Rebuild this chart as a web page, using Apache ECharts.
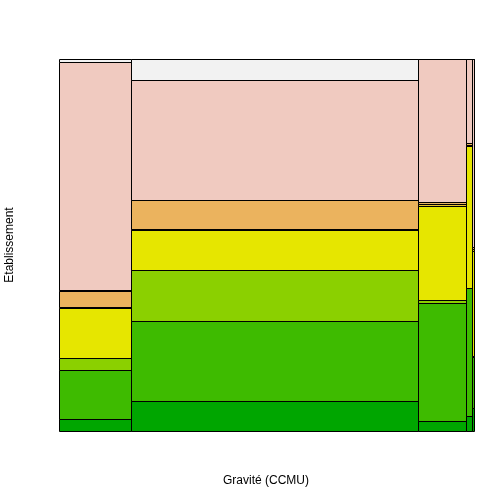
<!DOCTYPE html>
<html>
<head>
<meta charset="utf-8">
<script src="https://cdn.jsdelivr.net/npm/echarts@6/dist/echarts.min.js"></script>
<style>html,body{margin:0;padding:0;background:#fff}#c{width:504px;height:504px}</style>
</head>
<body>
<div id="c"></div>
<script>
// Gravité (CCMU) levels (x) with their relative column widths
var gravite = ["1", "2", "3", "4", "5"];
var graviteTotals = [72.3, 287, 48, 6, 1.7];
// Etablissement levels (y, bottom to top)
var etablissements = ["E1", "E2", "E3", "E4", "E5", "E6", "E7", "E8", "E9"];
var etabColors = ["#00A600", "#3EBB00", "#8BD000", "#E6E600", "#E8C32E", "#EBB35E", "#EDB48E", "#F0CAC0", "#F2F2F2"];
// share (%) of each Etablissement within each Gravité column
var shareG1 = [3.1, 13.2, 3.2, 13.4, 0.4, 4.3, 0.1, 61.3, 0.8];
var shareG2 = [8.1, 21.5, 13.8, 10.5, 0.5, 7.6, 0.1, 32.2, 5.7];
var shareG3 = [2.7, 31.7, 0.7, 25.4, 0.5, 0.5, 0.1, 38.4, 0.0];
var shareG4 = [4.0, 34.4, 0.1, 38.0, 0.4, 0.4, 0.1, 22.6, 0.0];
var shareG5 = [6.2, 13.7, 0.3, 28.2, 0.5, 0.5, 0.1, 50.5, 0.0];
var shares = [shareG1, shareG2, shareG3, shareG4, shareG5];
var xTitle = 'Gravité (CCMU)';
var yTitle = 'Etablissement';

var cells = [];
var xCum = 0;
for (var c = 0; c < gravite.length; c++) {
  var tot = shares[c].reduce(function (a, b) { return a + b; }, 0);
  var yCum = 0;
  for (var e = 0; e < etablissements.length; e++) {
    var h = shares[c][e] / tot;
    cells.push([xCum, xCum + graviteTotals[c], yCum, yCum + h, e]);
    yCum += h;
  }
  xCum += graviteTotals[c];
}
var xMax = xCum;

var chart = echarts.init(document.getElementById('c'), null, {renderer: 'canvas'});
chart.setOption({
  animation: false,
  backgroundColor: '#fff',
  grid: {left: 59, right: 30, top: 59, bottom: 73, containLabel: false, outerBoundsMode: 'none'},
  xAxis: {
    type: 'value', min: 0, max: xMax,
    axisLine: {show: false}, axisTick: {show: false}, axisLabel: {show: false}, splitLine: {show: false}
  },
  yAxis: {
    type: 'value', min: 0, max: 1,
    axisLine: {show: false}, axisTick: {show: false}, axisLabel: {show: false}, splitLine: {show: false}
  },
  graphic: [
    {type: 'text', x: 266, y: 481, style: {text: xTitle, fontFamily: 'Liberation Sans', fontSize: 12, fill: '#000', align: 'center', verticalAlign: 'middle'}},
    {type: 'text', x: 10, y: 245, rotation: Math.PI / 2, style: {text: yTitle, fontFamily: 'Liberation Sans', fontSize: 12, fill: '#000', align: 'center', verticalAlign: 'middle'}}
  ],
  series: [{
    type: 'custom',
    data: cells,
    renderItem: function (params, api) {
      var p0 = api.coord([api.value(0), api.value(2)]);
      var p1 = api.coord([api.value(1), api.value(3)]);
      var x0 = Math.round(p0[0]) + 0.5, x1 = Math.round(p1[0]) + 0.5;
      var yb = Math.round(p0[1]) + 0.5, yt = Math.round(p1[1]) + 0.5;
      return {
        type: 'rect',
        shape: {x: x0, y: yt, width: x1 - x0, height: yb - yt},
        style: {fill: etabColors[api.value(4)], stroke: '#000', lineWidth: 1}
      };
    }
  }]
});
</script>
</body>
</html>
